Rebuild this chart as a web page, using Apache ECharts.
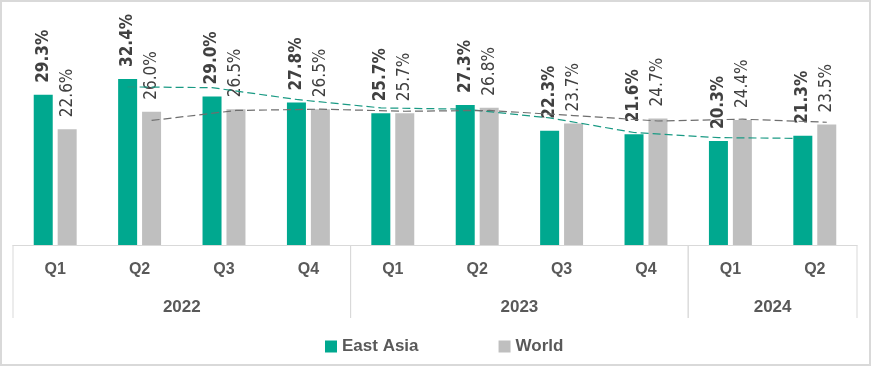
<!DOCTYPE html>
<html>
<head>
<meta charset="utf-8">
<script src="https://cdn.jsdelivr.net/npm/echarts@6/dist/echarts.min.js"></script>
<style>
  html, body { margin: 0; padding: 0; background: #fff; }
  #chart { width: 871px; height: 366px; }
</style>
</head>
<body>
<div id="chart"></div>
<script>
const quarters = ['Q1', 'Q2', 'Q3', 'Q4', 'Q1', 'Q2', 'Q3', 'Q4', 'Q1', 'Q2'];
const years = ['2022', '2023', '2024'];
const quartersPerYear = [4, 4, 2];
const eastAsia = [29.3, 32.4, 29.0, 27.8, 25.7, 27.3, 22.3, 21.6, 20.3, 21.3];
const world = [22.6, 26.0, 26.5, 26.5, 25.7, 26.8, 23.7, 24.7, 24.4, 23.5];

// Two-period moving-average trendlines (as in the source chart)
function movingAvg(arr) {
  return arr.map((v, i) => (i === 0 ? null : (arr[i - 1] + v) / 2));
}
const eaTrend = movingAvg(eastAsia);
const worldTrend = movingAvg(world);

const TEAL = '#00A88F';
const GRAY = '#BFBFBF';
const AXIS = '#D9D9D9';
const TEXT = '#595959';
const BAR_W = 19;
const BAR_GAP_PX = 5;
const barOffset = (BAR_W + BAR_GAP_PX) / 2;

// year groups built from quartersPerYear
const groups = [];
let start = 0;
years.forEach((y, k) => {
  groups.push([start, start + quartersPerYear[k] - 1, k]);
  start += quartersPerYear[k];
});

const labelFont = '"Liberation Sans Narrow", "DejaVu Sans Condensed", "Liberation Sans", sans-serif';

function trendSeries(name, values, dx, color) {
  return {
    type: 'custom',
    name: name,
    xAxisIndex: 1,
    yAxisIndex: 0,
    silent: true,
    z: 5,
    data: [[0, 0]],
    renderItem: function (params, api) {
      const pts = [];
      values.forEach((v, i) => {
        if (v == null) return;
        const p = api.coord([i, v]);
        pts.push([p[0] + dx, p[1]]);
      });
      return {
        type: 'polyline',
        shape: { points: pts },
        style: { stroke: color, lineWidth: 1.2, lineDash: [8, 4], fill: null }
      };
    }
  };
}

const chart = echarts.init(document.getElementById('chart'));
chart.setOption({
  animation: false,
  backgroundColor: '#fff',
  graphic: [{
    type: 'rect',
    shape: { x: 1, y: 1, width: 869, height: 364 },
    style: { stroke: AXIS, lineWidth: 2, fill: null },
    silent: true
  }],
  grid: { left: 13, right: 14, top: 40, bottom: 121, containLabel: false },
  xAxis: [{
    type: 'category',
    data: quarters,
    axisLine: { show: true, lineStyle: { color: AXIS, width: 1 } },
    axisTick: { show: false },
    axisLabel: {
      margin: 17,
      color: TEXT,
      fontWeight: 'bold',
      fontSize: 16,
      fontFamily: '"Liberation Sans", Arial, sans-serif'
    }
  }, {
    type: 'value',
    min: -0.5,
    max: 9.5,
    show: false
  }],
  yAxis: {
    type: 'value',
    min: 0,
    max: 40,
    show: false,
    splitLine: { show: false }
  },
  legend: {
    data: ['East Asia', 'World'],
    left: 320,
    top: 333,
    itemWidth: 12,
    itemHeight: 12,
    itemGap: 80,
    icon: 'rect',
    textStyle: {
      color: TEXT,
      fontWeight: 'bold',
      fontSize: 17,
      fontFamily: '"Liberation Sans", Arial, sans-serif'
    }
  },
  series: [{
    name: 'East Asia',
    type: 'bar',
    data: eastAsia,
    barWidth: BAR_W,
    barGap: (BAR_GAP_PX / BAR_W * 100).toFixed(0) + '%',
    itemStyle: { color: TEAL },
    label: {
      show: true,
      position: 'top',
      rotate: 90,
      align: 'left',
      verticalAlign: 'middle',
      distance: 12,
      color: '#404040',
      fontWeight: 'bold',
      fontSize: 17,
      fontFamily: labelFont,
      formatter: p => p.value.toFixed(1) + '%'
    }
  }, {
    name: 'World',
    type: 'bar',
    data: world,
    barWidth: BAR_W,
    itemStyle: { color: GRAY },
    label: {
      show: true,
      position: 'top',
      rotate: 90,
      align: 'left',
      verticalAlign: 'middle',
      distance: 12,
      color: '#404040',
      fontWeight: 'normal',
      fontSize: 17,
      fontFamily: labelFont,
      formatter: p => p.value.toFixed(1) + '%'
    }
  },
  trendSeries('EA trend', eaTrend, -barOffset, '#1A9A84'),
  trendSeries('World trend', worldTrend, barOffset, '#6E6E6E'),
  {
    type: 'custom',
    name: 'years',
    xAxisIndex: 1,
    yAxisIndex: 0,
    silent: true,
    clip: false,
    data: groups,
    renderItem: function (params, api) {
      const s = api.value(0), e = api.value(1), k = api.value(2);
      const base = api.coord([s - 0.5, 0]);
      const end = api.coord([e + 0.5, 0]);
      const y0 = base[1];
      return {
        type: 'group',
        children: [{
          type: 'line',
          shape: { x1: base[0], y1: y0, x2: base[0], y2: y0 + 73 },
          style: { stroke: AXIS, lineWidth: 1 }
        }, {
          type: 'line',
          shape: { x1: end[0], y1: y0, x2: end[0], y2: y0 + 73 },
          style: { stroke: AXIS, lineWidth: 1 }
        }, {
          type: 'text',
          style: {
            x: (base[0] + end[0]) / 2,
            y: y0 + 62,
            text: years[k],
            fill: TEXT,
            font: 'bold 17px "Liberation Sans", Arial, sans-serif',
            align: 'center',
            verticalAlign: 'middle'
          }
        }]
      };
    }
  }]
});
</script>
</body>
</html>
